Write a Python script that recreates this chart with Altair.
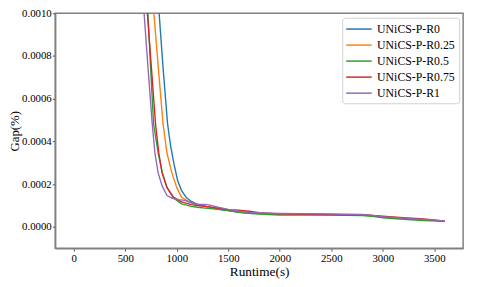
import altair as alt
import pandas as pd

series = ["UNiCS-P-R0", "UNiCS-P-R0.25", "UNiCS-P-R0.5", "UNiCS-P-R0.75", "UNiCS-P-R1"]
colors = ["#1f77b4", "#ff7f0e", "#2ca02c", "#d62728", "#9467bd"]

tail_x = [1200, 1300, 1400, 1500, 1600, 1700, 1800, 2000, 2200, 2500, 2800, 2900, 3000, 3200, 3400, 3600]

r0_x = [789, 829, 868, 911, 940, 975, 1010, 1047, 1095, 1142] + tail_x
r0_y = [0.0013, 0.0010, 0.00074, 0.000483, 0.000380, 0.000290, 0.000215, 0.000170, 0.000136, 0.000119,
        0.000106, 0.000094, 0.000084, 0.000077, 0.000068, 0.000064, 0.000062, 0.000060, 0.000059,
        0.000058, 0.000055, 0.000052, 0.000046, 0.000040, 0.000034, 0.000027]

r025_x = [740, 778, 822, 867, 905, 952, 1000, 1047, 1095, 1150] + tail_x
r025_y = [0.0013, 0.0010, 0.00074, 0.000483, 0.000346, 0.000254, 0.000185, 0.000139, 0.000124, 0.000110,
          0.000103, 0.000094, 0.000086, 0.000078, 0.000071, 0.000066, 0.000063, 0.000060, 0.000059,
          0.000058, 0.000055, 0.000052, 0.000047, 0.000040, 0.000034, 0.000027]

r05_x = [685, 720, 747, 775, 820, 860, 905, 968, 1047, 1142] + tail_x
r05_y = [0.0013, 0.0010, 0.00074, 0.000483, 0.000346, 0.000254, 0.000185, 0.000135, 0.000108, 0.000096,
         0.000092, 0.000087, 0.000082, 0.000077, 0.000070, 0.000064, 0.000060, 0.000056, 0.000055,
         0.000055, 0.000053, 0.000049, 0.000043, 0.000036, 0.000030, 0.000026]

r075_x = [680, 715, 755, 794, 826, 857, 905, 968, 1047, 1142] + tail_x
r075_y = [0.0013, 0.0010, 0.00074, 0.000483, 0.000346, 0.000254, 0.000185, 0.000139, 0.000117, 0.000104,
          0.000100, 0.000095, 0.000088, 0.000081, 0.000078, 0.000073, 0.000066, 0.000061, 0.000060,
          0.000058, 0.000057, 0.000054, 0.000050, 0.000043, 0.000037, 0.000027]

r1_x = [650, 683, 722, 762, 788, 819, 857, 905, 952, 1016, 1079, 1150] + tail_x
r1_y = [0.0013, 0.0010, 0.00074, 0.000483, 0.000346, 0.000254, 0.000193, 0.000147, 0.000135, 0.000128, 0.000124, 0.000112,
        0.000106, 0.000104, 0.000092, 0.000082, 0.000074, 0.000068, 0.000065, 0.000063, 0.000062,
        0.000060, 0.000058, 0.000054, 0.000048, 0.000041, 0.000035, 0.000028]

xs = [r0_x, r025_x, r05_x, r075_x, r1_x]
ys = [r0_y, r025_y, r05_y, r075_y, r1_y]

rows = []
for name, sx, sy in zip(series, xs, ys):
    for i, (a, b) in enumerate(zip(sx, sy)):
        rows.append({"series": name, "runtime": a, "gap": b, "order": i})
df = pd.DataFrame(rows)

x_ticks = [0, 500, 1000, 1500, 2000, 2500, 3000, 3500]
y_ticks = [0.0, 0.0002, 0.0004, 0.0006, 0.0008, 0.0010]

FONT = "Liberation Serif"

axis_style = dict(
    grid=False, labelFont=FONT, titleFont=FONT, labelFontSize=11,
    titleFontWeight="normal", labelFontWeight="normal", labelColor="#000", titleColor="#000",
    domainColor="#808080", domainWidth=1.5, tickColor="#555", tickSize=3, labelPadding=1,
)

chart = alt.Chart(df).mark_line(clip=True, strokeWidth=1.4).encode(
    x=alt.X("runtime:Q", title="Runtime(s)",
            scale=alt.Scale(domain=[-180, 3780], nice=False, zero=False),
            axis=alt.Axis(values=x_ticks, format="d", titlePadding=2, titleFontSize=13.5,
                          **axis_style)),
    y=alt.Y("gap:Q", title="Gap(%)",
            scale=alt.Scale(domain=[-0.0001, 0.001], nice=False, zero=False),
            axis=alt.Axis(values=y_ticks, format=".4f", titleX=-41.5, titleY=119.5,
                          titleAngle=270, titleBaseline="middle", titleAlign="center",
                          titleFontSize=13, **axis_style)),
    color=alt.Color("series:N", sort=series, title=None,
                    scale=alt.Scale(domain=series, range=colors),
                    legend=alt.Legend(orient="none", legendX=292, legendY=4.5)),
    order="order:Q",
).properties(
    width=415, height=239,
    autosize=alt.AutoSizeParams(type="none"),
    padding={"left": 48, "top": 3, "right": 7, "bottom": 37},
).configure(
    font=FONT,
).configure_view(
    stroke="#808080", strokeWidth=1.5
).configure_legend(
    labelFont=FONT, labelFontSize=12, labelColor="#000",
    symbolType="M-2,0H2", symbolSize=169, symbolStrokeWidth=1.5,
    strokeColor="#d0d0d0", fillColor="white", cornerRadius=3,
    padding=4, rowPadding=2.3, symbolOffset=5.5, labelOffset=11,
)

chart.save("out.html", embed_options={"renderer": "svg", "actions": False})
